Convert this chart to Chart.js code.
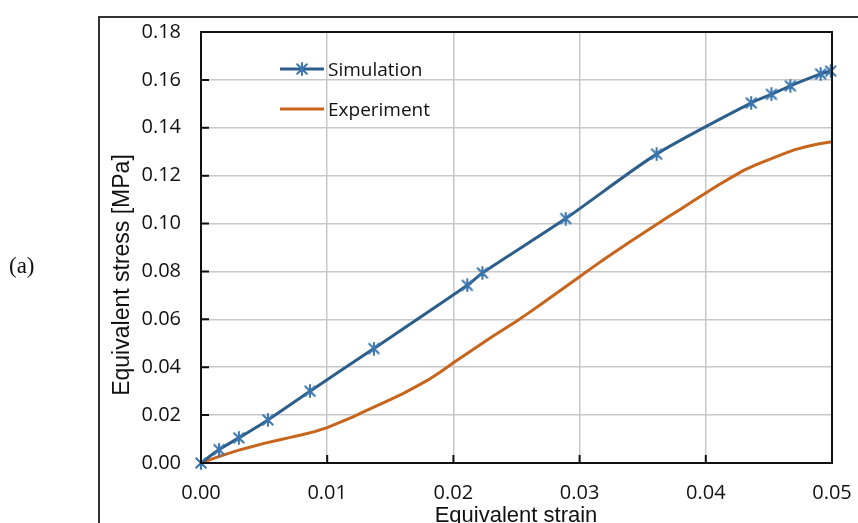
<!DOCTYPE html>
<html>
<head>
<meta charset="utf-8">
<script src="https://cdn.jsdelivr.net/npm/chart.js@4.4.1/dist/chart.umd.min.js"></script>
<style>
  html, body { margin: 0; padding: 0; background: #fff; }
  canvas { display: block; }
</style>
</head>
<body>
<canvas id="myChart" width="858" height="523"></canvas>
<script>
// DATA
const simStrain = [0, 0.00143, 0.0030, 0.0053, 0.00864, 0.0137, 0.0211, 0.0223, 0.0289, 0.0361, 0.0436, 0.0452, 0.0467, 0.0491, 0.0499];
const simStress = [0, 0.0056, 0.0105, 0.0180, 0.0300, 0.0478, 0.0742, 0.0794, 0.1021, 0.1290, 0.1504, 0.1540, 0.1575, 0.1625, 0.1637];

const expStrain = [0, 0.001, 0.002, 0.003, 0.004, 0.005, 0.006, 0.007, 0.008, 0.009,
                   0.010, 0.011, 0.012, 0.013, 0.014, 0.015, 0.016, 0.017, 0.018, 0.019,
                   0.020, 0.021, 0.022, 0.023, 0.024, 0.025, 0.026, 0.027, 0.028, 0.029,
                   0.030, 0.031, 0.032, 0.033, 0.034, 0.035, 0.036, 0.037, 0.038, 0.039,
                   0.040, 0.041, 0.042, 0.043, 0.044, 0.045, 0.046, 0.047, 0.048, 0.049, 0.050];
const expStress = [0, 0.0019, 0.0037, 0.0054, 0.0068, 0.0082, 0.0094, 0.0106, 0.0118, 0.0131,
                   0.0148, 0.0170, 0.0192, 0.0217, 0.0241, 0.0265, 0.0290, 0.0318, 0.0347, 0.0381,
                   0.0419, 0.0454, 0.0490, 0.0525, 0.0559, 0.0592, 0.0628, 0.0665, 0.0703, 0.0740,
                   0.0778, 0.0816, 0.0853, 0.0888, 0.0924, 0.0958, 0.0993, 0.1027, 0.1060, 0.1094,
                   0.1128, 0.1161, 0.1192, 0.1222, 0.1246, 0.1267, 0.1288, 0.1308, 0.1322, 0.1333, 0.1342];

const xTicks = [0, 0.01, 0.02, 0.03, 0.04, 0.05];
const yTicks = [0, 0.02, 0.04, 0.06, 0.08, 0.10, 0.12, 0.14, 0.16, 0.18];

const seriesNames = ['Simulation', 'Experiment'];
const xTitle = 'Equivalent strain';
const yTitle = 'Equivalent stress [MPa]';
const panelLabel = '(a)';

const BLUE = '#2c5e8c';
const MARKER_BLUE = '#3b76ae';
const ORANGE = '#c8651c';

// asterisk marker like excel's star (X with vertical bar)
function makeStar(size, color) {
    const c = document.createElement('canvas');
    c.width = size; c.height = size;
    const g = c.getContext('2d');
    const h = size / 2, r = size / 2 - 1;
    g.strokeStyle = color;
    g.lineWidth = 2;
    g.lineCap = 'round';
    g.beginPath();
    g.moveTo(h, h - r); g.lineTo(h, h + r);
    g.moveTo(h - r * 0.8, h - r * 0.8); g.lineTo(h + r * 0.8, h + r * 0.8);
    g.moveTo(h + r * 0.8, h - r * 0.8); g.lineTo(h - r * 0.8, h + r * 0.8);
    g.stroke();
    return c;
}
const starImg = makeStar(14, MARKER_BLUE);

const toPoints = (xs, ys) => xs.map((x, i) => ({ x: x, y: ys[i] }));

const decor = {
    id: 'decor',
    afterDraw: (chart) => {
        const ctx = chart.ctx;
        const area = chart.chartArea;
        const xs = chart.scales.x, ys = chart.scales.y;
        ctx.save();

        // outer frame
        ctx.strokeStyle = '#333';
        ctx.lineWidth = 2;
        ctx.beginPath();
        ctx.moveTo(99, 523); ctx.lineTo(99, 17); ctx.lineTo(858, 17);
        ctx.stroke();

        // plot border
        ctx.strokeStyle = '#111';
        ctx.lineWidth = 2;
        ctx.strokeRect(area.left, area.top, area.right - area.left, area.bottom - area.top);

        // inward tick marks
        ctx.lineWidth = 2;
        ctx.beginPath();
        yTicks.forEach(v => {
            const py = ys.getPixelForValue(v);
            ctx.moveTo(area.left, py); ctx.lineTo(area.left + 8, py);
        });
        xTicks.forEach(v => {
            const px = xs.getPixelForValue(v);
            ctx.moveTo(px, area.bottom); ctx.lineTo(px, area.bottom - 8);
        });
        ctx.stroke();

        // legend
        ctx.font = '19px "Open Sans"';
        ctx.fillStyle = '#111';
        ctx.textAlign = 'left';
        ctx.textBaseline = 'alphabetic';
        ctx.lineWidth = 3;
        ctx.strokeStyle = BLUE;
        ctx.beginPath(); ctx.moveTo(280, 69); ctx.lineTo(324, 69); ctx.stroke();
        ctx.drawImage(starImg, 302 - 7, 69 - 7);
        ctx.fillText(seriesNames[0], 328, 76);
        ctx.strokeStyle = ORANGE;
        ctx.beginPath(); ctx.moveTo(280, 109); ctx.lineTo(324, 109); ctx.stroke();
        ctx.fillText(seriesNames[1], 328, 116);

        // axis titles
        ctx.font = '22px "Liberation Sans", Arial';
        ctx.textAlign = 'center';
        ctx.fillText(xTitle, 516, 522);
        ctx.save();
        ctx.translate(129, 275);
        ctx.rotate(-Math.PI / 2);
        ctx.font = '23px "Liberation Sans", Arial';
        ctx.fillText(yTitle, 0, 0);
        ctx.restore();

        // panel label
        ctx.font = '23px "Liberation Serif", serif';
        ctx.textAlign = 'left';
        ctx.textBaseline = 'middle';
        ctx.fillText(panelLabel, 9, 267);
        ctx.restore();
    }
};

const ctx = document.getElementById('myChart').getContext('2d');

const myChart = new Chart(ctx, {
    type: 'line',
    data: {
        datasets: [{
            label: seriesNames[0],
            data: toPoints(simStrain, simStress),
            borderColor: BLUE,
            borderWidth: 3,
            pointStyle: starImg,
            pointRadius: 7,
            tension: 0.25,
            clip: false
        }, {
            label: seriesNames[1],
            data: toPoints(expStrain, expStress),
            borderColor: ORANGE,
            borderWidth: 3,
            pointRadius: 0,
            tension: 0
        }]
    },
    options: {
        responsive: false,
        animation: false,
        events: [],
        layout: { padding: { top: 32, right: 26, left: 0, bottom: 0 } },
        plugins: {
            legend: { display: false },
            tooltip: { enabled: false }
        },
        scales: {
            x: {
                type: 'linear',
                min: 0,
                max: 0.05,
                afterBuildTicks: (s) => { s.ticks = xTicks.map(v => ({ value: v })); },
                afterFit: (s) => { s.height = 60; s.paddingLeft = 0; s.paddingRight = 0; },
                ticks: {
                    padding: 18,
                    color: '#111',
                    font: { family: 'Open Sans', size: 20 },
                    callback: (v) => v.toFixed(2)
                },
                grid: { color: '#c8c8c8', lineWidth: 1.5, drawTicks: false },
                border: { display: false }
            },
            y: {
                min: 0,
                max: 0.18,
                afterBuildTicks: (s) => { s.ticks = yTicks.map(v => ({ value: v })); },
                afterFit: (s) => { s.width = 201; },
                ticks: {
                    padding: 20,
                    color: '#111',
                    font: { family: 'Open Sans', size: 20 },
                    callback: (v) => v.toFixed(2)
                },
                grid: { color: '#c8c8c8', lineWidth: 1.5, drawTicks: false },
                border: { display: false }
            }
        }
    },
    plugins: [decor]
});
</script>
</body>
</html>
